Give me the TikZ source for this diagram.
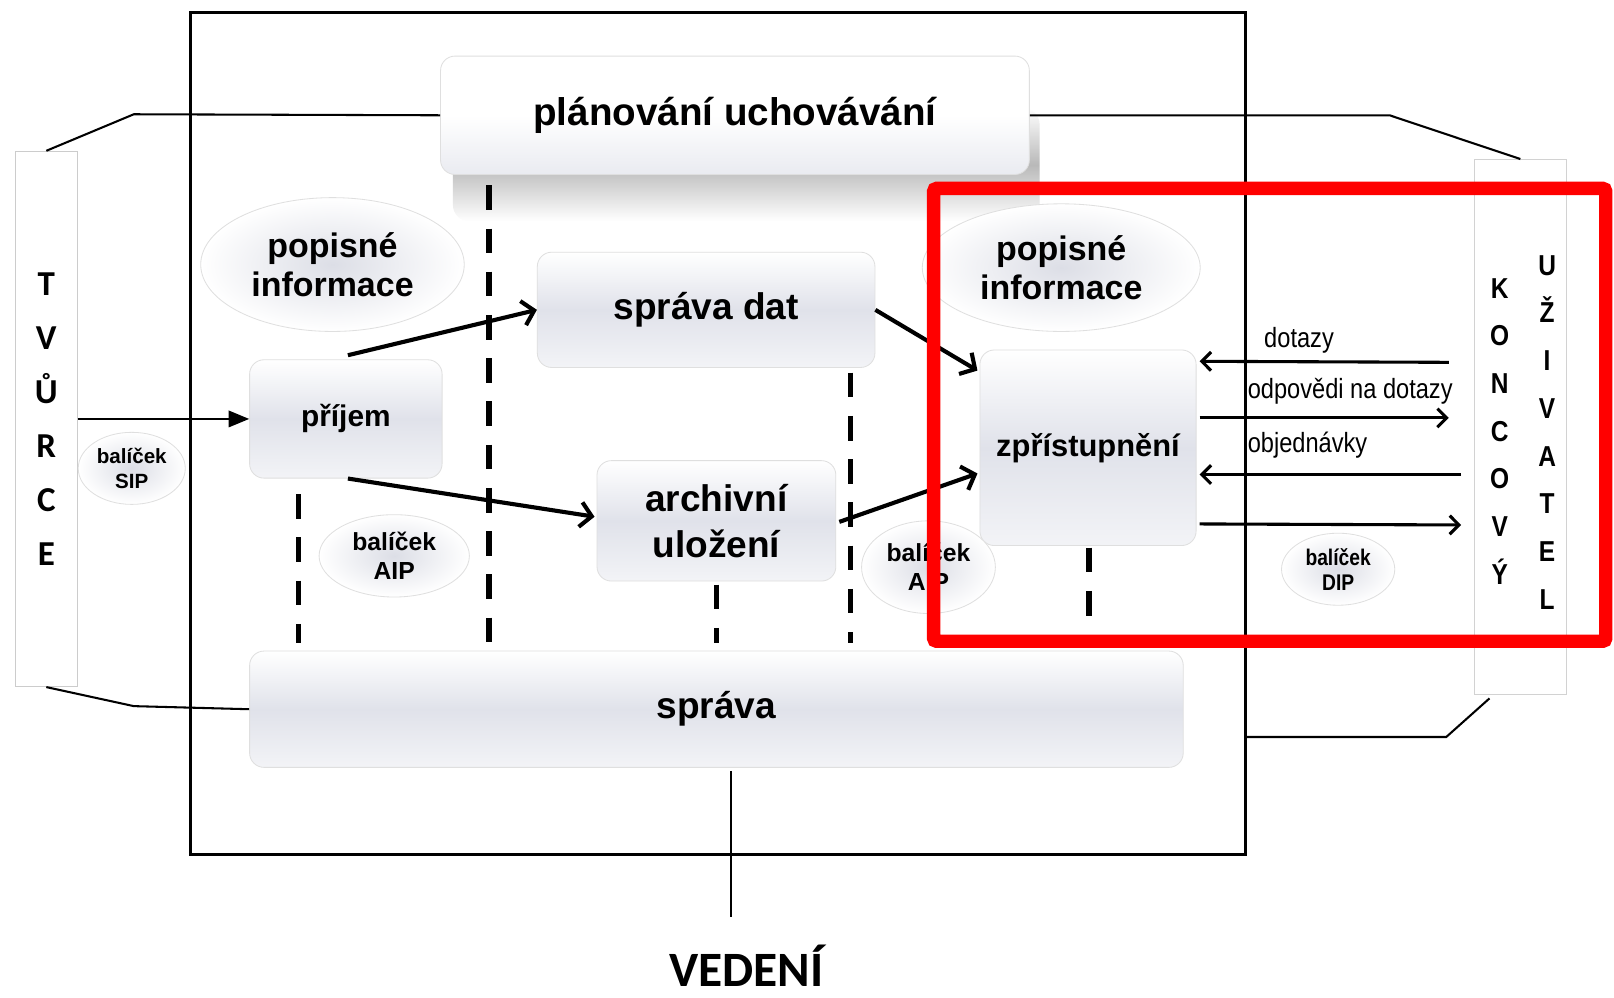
\documentclass[tikz,border=0pt]{standalone}
\usepackage{fontspec}
\setmainfont{Liberation Sans}
\newfontfamily\calfont{Carlito}
\newfontfamily\narrowfont[FakeStretch=0.85]{Liberation Sans}
\usetikzlibrary{shapes.geometric,arrows.meta,calc}
\definecolor{boxmid}{RGB}{224,226,234}
\definecolor{ellmid}{RGB}{220,222,230}
\tikzset{
  proc/.style={rounded corners=14pt, draw=gray!25, line width=0.8pt, top color=white, bottom color=white!60!boxmid, middle color=boxmid, inner sep=0pt, align=center, font=\bfseries\fontsize{36}{45}\selectfont},
  ell/.style={ellipse, draw=gray!25, line width=0.8pt, inner color=ellmid, outer color=white, inner sep=0pt, align=center},
  flow/.style={line width=4pt, -{Straight Barb[length=11pt,width=24pt]}},
  io/.style={line width=3pt, -{Straight Barb[length=9pt,width=18pt]}},
  sipar/.style={line width=2pt, -{Triangle[length=20pt,width=16pt]}},
  link/.style={line width=2pt},
  sepline/.style={line width=5pt, dash pattern=on 24pt off 18pt},
  lbl/.style={font=\narrowfont\fontsize{27}{30}\selectfont, inner sep=0pt},
  sidebox/.style={draw=gray!40, line width=1pt, fill=white, inner sep=0pt}
}
\begin{document}
\begin{tikzpicture}[x=1pt,y=-1pt]
\useasboundingbox (0,0) rectangle (1568,969);
\fill[white] (0,0) rectangle (1568,969);

% main frame
\node[draw, line width=3pt, minimum width=1025pt, minimum height=818pt, inner sep=0pt, outer sep=0pt] (frame) at (697.5,421) {};

% side columns
\node[sidebox, minimum width=60pt, minimum height=520pt, align=center,
      font=\calfont\bfseries\fontsize{34}{52.4}\selectfont] (tvurce) at (45,407) {T\\V\\Ů\\R\\C\\E};
\node[sidebox, draw=gray!35, minimum width=90pt, minimum height=520pt] (uzivatel) at (1477,415) {};
\node[align=center, inner sep=0pt, font=\narrowfont\bfseries\fontsize{28}{46.3}\selectfont] (kon) at (1457,419) {K\\O\\N\\C\\O\\V\\Ý};
\node[align=center, inner sep=0pt, font=\narrowfont\bfseries\fontsize{28}{46.4}\selectfont] (uziv) at (1503,420) {U\\Ž\\I\\V\\A\\T\\E\\L};

% soft shadow of planning box
\shade[rounded corners=16pt, top color=white, bottom color=white, middle color=gray!55] (440,105) rectangle (1010,215);

% boxes
\node[proc, minimum width=572pt, minimum height=115pt, bottom color=boxmid!70, middle color=white, font=\bfseries\fontsize{37.5}{45}\selectfont] (plan) at (714,112) {plánování uchovávání};
\node[proc, minimum width=187pt, minimum height=115pt, font=\bfseries\fontsize{29}{34}\selectfont] (prijem) at (336,407) {příjem};
\node[proc, minimum width=328pt, minimum height=112pt] (spravadat) at (686,301) {správa dat};
\node[proc, minimum width=232pt, minimum height=117pt] (archiv) at (696,506) {archivní\\uložení};
\node[proc, minimum width=210pt, minimum height=190pt, font=\bfseries\fontsize{30}{34}\selectfont] (zpristup) at (1057,435) {zpřístupnění};
\node[proc, minimum width=907pt, minimum height=113pt] (sprava) at (696,689) {správa};

% ellipses
\node[ell, minimum width=256pt, minimum height=130pt, font=\bfseries\fontsize{33}{38}\selectfont] (popis1) at (323,257) {popisné\\informace};
\node[ell, minimum width=270pt, minimum height=124pt, font=\bfseries\fontsize{33}{38}\selectfont] (popis2) at (1031,260) {popisné\\informace};
\node[ell, minimum width=104pt, minimum height=70pt, font=\bfseries\fontsize{20}{24}\selectfont] (sip) at (128,455) {balíček\\SIP};
\node[ell, minimum width=146pt, minimum height=80pt, font=\bfseries\fontsize{24}{28}\selectfont] (aip1) at (383,540) {balíček\\AIP};
\node[ell, minimum width=130pt, minimum height=90pt, font=\bfseries\fontsize{24}{28}\selectfont] (aip2) at (902,551) {balíček\\AIP};
\node[ell, minimum width=110pt, minimum height=70pt, font=\narrowfont\bfseries\fontsize{22}{24}\selectfont] (dip) at (1300,553) {balíček\\DIP};

% separators
\draw[sepline] (475,180) -- (475,625);
\draw[sepline] (290,480) -- (290,625);
\draw[sepline] (826,362) -- (826,625);
\draw[sepline] (696,568) -- (696,625);
\draw[sepline] (1058,532) -- (1058,602);

% links to side columns
\coordinate (bTL) at (130,111);
\coordinate (bTR) at (1350,112);
\coordinate (bBL) at (130,686);
\coordinate (bBR) at (1405,716);
\draw[link] (plan.west) -- (bTL) -- (tvurce.north);
\draw[link] (plan.east) -- (bTR) -- (uzivatel.north);
\draw[link] (sprava.west) -- (bBL) -- (tvurce.south);
\draw[link] (frame.east |- bBR) -- (bBR) -- ($(uzivatel.south)+(-30,3)$);

% flows
\draw[sipar] (tvurce.east |- prijem.west) -- (prijem.west);
\draw[flow] ($(prijem.north)+(2,-4)$) -- (spravadat.west);
\draw[flow] ($(prijem.south)+(2,0)$) -- ($(archiv.west)+(-2,-4)$);
\draw[flow] (spravadat.east) -- ($(zpristup.west)+(-2,-75)$);
\draw[flow] ($(archiv.east)+(3,1)$) -- ($(zpristup.west)+(-2,25)$);

% user interaction
\draw[io] ($(uzivatel.west)+(-24,-63)$) -- ($(zpristup.east)+(3,-84)$);
\draw[io] ($(zpristup.east)+(3,-29)$) -- ($(uzivatel.west)+(-24,-9)$);
\draw[io] ($(uzivatel.west)+(-12,46)$) -- ($(zpristup.east)+(3,26)$);
\draw[io] ($(zpristup.east)+(3,74)$) -- ($(uzivatel.west)+(-12,95)$);
\node[lbl] (ldot) at (1262,331) {dotazy};
\node[lbl, anchor=west] (lodp) at (1212,380) {odpovědi na dotazy};
\node[lbl, anchor=west] (lobj) at (1212,432) {objednávky};

% management
\node[font=\calfont\bfseries\fontsize{48}{54}\selectfont, inner sep=0pt] (vedeni) at (725,938) {VEDENÍ};
\draw[line width=2.5pt] ($(sprava.south)+(14,3)$) -- ($(sprava.south)+(14,145)$);

% red highlight
\draw[red, line width=13pt, rounded corners=3pt] (907,183) rectangle (1560,623);
\end{tikzpicture}
\end{document}
